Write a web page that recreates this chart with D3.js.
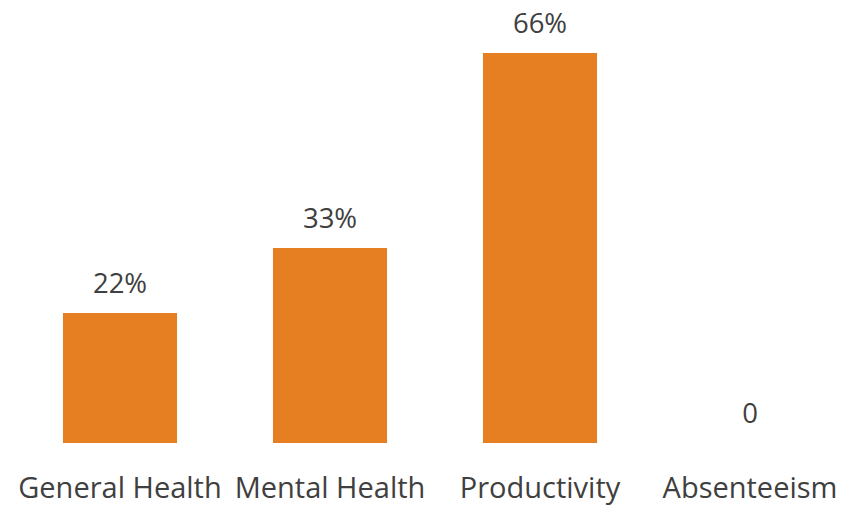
<!DOCTYPE html>
<html>
<head>
<meta charset="utf-8">
<script src="https://cdn.jsdelivr.net/npm/d3@7"></script>
<style>
  html, body { margin: 0; padding: 0; background: #fff; }
  text { font-family: "Open Sans", "Liberation Sans", sans-serif; fill: #404040; }
</style>
</head>
<body>
<svg id="chart" width="845" height="505"></svg>
<script>
const categories = ["General Health", "Mental Health", "Productivity", "Absenteeism"];
const values = [22, 33, 66, 0];
const valueLabels = ["22%", "33%", "66%", "0"];

const svg = d3.select("#chart");
const baseline = 443;

const x = d3.scaleBand()
  .domain(categories)
  .range([15, 855])
  .paddingInner(0.457)
  .paddingOuter(0.2285);

const y = d3.scaleLinear()
  .domain([0, 66])
  .range([baseline, 53]);

const rows = categories.map((c, i) => ({ c, v: values[i], label: valueLabels[i] }));

svg.selectAll("rect.bar")
  .data(rows)
  .join("rect")
  .attr("class", "bar")
  .attr("x", d => x(d.c))
  .attr("y", d => y(d.v))
  .attr("width", x.bandwidth())
  .attr("height", d => baseline - y(d.v))
  .attr("fill", "#E67E22");

svg.selectAll("text.val")
  .data(rows)
  .join("text")
  .attr("class", "val")
  .attr("x", d => x(d.c) + x.bandwidth() / 2)
  .attr("y", d => y(d.v) - 20)
  .attr("text-anchor", "middle")
  .style("font-size", "27.5px")
  .text(d => d.label);

svg.selectAll("text.cat")
  .data(rows)
  .join("text")
  .attr("class", "cat")
  .attr("x", d => x(d.c) + x.bandwidth() / 2)
  .attr("y", 498)
  .attr("text-anchor", "middle")
  .style("font-size", "29px")
  .text(d => d.c);
</script>
</body>
</html>
